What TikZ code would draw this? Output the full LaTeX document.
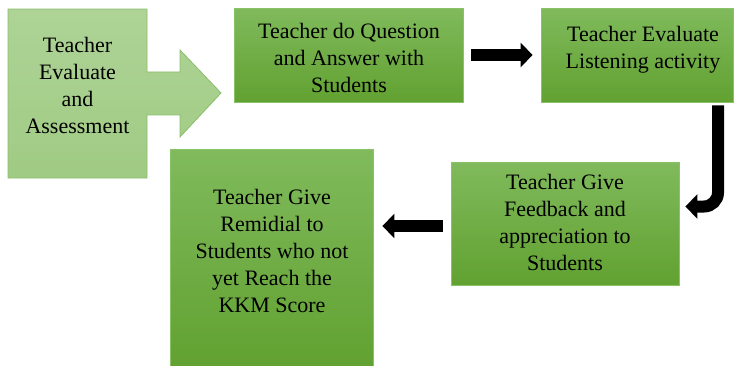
\documentclass[tikz,border=0pt]{standalone}
\usepackage{fontspec}
\setmainfont{Liberation Serif}
\usetikzlibrary{arrows.meta}
\definecolor{gtop}{RGB}{128,186,92}
\definecolor{gbot}{RGB}{98,162,50}
\definecolor{gline}{RGB}{138,194,104}
\definecolor{ltop}{RGB}{174,211,150}
\definecolor{lbot}{RGB}{160,203,132}
\definecolor{lline}{RGB}{138,190,106}
% vertical gradient made of thin strips (x1,y1,x2,y2,top colour,bottom colour)
\newcommand\gradfill[6]{%
  \foreach \i in {0,...,39}{%
    \pgfmathsetmacro\ya{#2+(#4-#2)*\i/40}%
    \pgfmathsetmacro\yb{#2+(#4-#2)*(\i+1)/40+0.5}%
    \pgfmathtruncatemacro\p{100-\i*100/39}%
    \fill[#5!\p!#6] (#1,\ya) rectangle (#3,\yb);}}
\begin{document}
\begin{tikzpicture}[x=1pt,y=-1pt,
  gbox/.style={draw=gline, line width=0.8pt, inner sep=0pt},
  txt/.style={align=center, inner sep=0pt, font=\fontsize{22}{27}\selectfont},
  bigarrow/.style={line width=12pt, -{Triangle[width=24pt,length=12pt]}}]
\useasboundingbox (0,0) rectangle (735,366);
% block arrow
\begin{scope}
  \clip (8,9) -- (147,9) -- (147,72) -- (180,72) -- (180,50) -- (221,93) -- (180,137)
    -- (180,115) -- (147,115) -- (147,178) -- (8,178) -- cycle;
  \gradfill{8}{9}{221}{178}{ltop}{lbot}
\end{scope}
\draw[lline, line width=0.8pt]
  (8,9) -- (147,9) -- (147,72) -- (180,72) -- (180,50) -- (221,93) -- (180,137)
  -- (180,115) -- (147,115) -- (147,178) -- (8,178) -- cycle;
% boxes
\gradfill{234}{8}{463}{102}{gtop}{gbot}
\node[gbox, minimum width=229pt, minimum height=94pt] (b2) at (348.5,55) {};
\gradfill{541}{8}{733}{102}{gtop}{gbot}
\node[gbox, minimum width=192pt, minimum height=94pt] (b3) at (637,55) {};
\gradfill{451}{162}{679}{285}{gtop}{gbot}
\node[gbox, minimum width=228pt, minimum height=123pt] (b4) at (565,223.5) {};
\gradfill{170}{149}{373}{366}{gtop}{gbot}
\node[gbox, minimum width=203pt, minimum height=218pt] (b5) at (271.5,258) {};
% texts
\node[txt] (t1) at (77.5,85) {Teacher\\Evaluate\\and\\Assessment};
\node[txt] (t2) at (349,57.7) {Teacher do Question\\and Answer with\\Students};
\node[txt] (t3) at (643,50) {Teacher Evaluate\\Listening activity};
\node[txt] (t4) at (565,222.7) {Teacher Give\\Feedback and\\appreciation to\\Students};
\node[txt] (t5) at (272,251) {Teacher Give\\Remidial to\\Students who not\\yet Reach the\\KKM Score};
% connectors
\draw[bigarrow, shorten <=8pt, shorten >=8pt] (b2.east) -- (b3.west);
\draw[bigarrow, rounded corners=14pt] ([xshift=81pt,yshift=-3pt]b3.south) |- ([xshift=6pt,yshift=17pt]b4.east);
\coordinate (m) at ([yshift=-2.5pt]b4.west);
\draw[bigarrow, shorten <=8pt, shorten >=9pt] (m) -- (m -| b5.east);
\end{tikzpicture}
\end{document}
